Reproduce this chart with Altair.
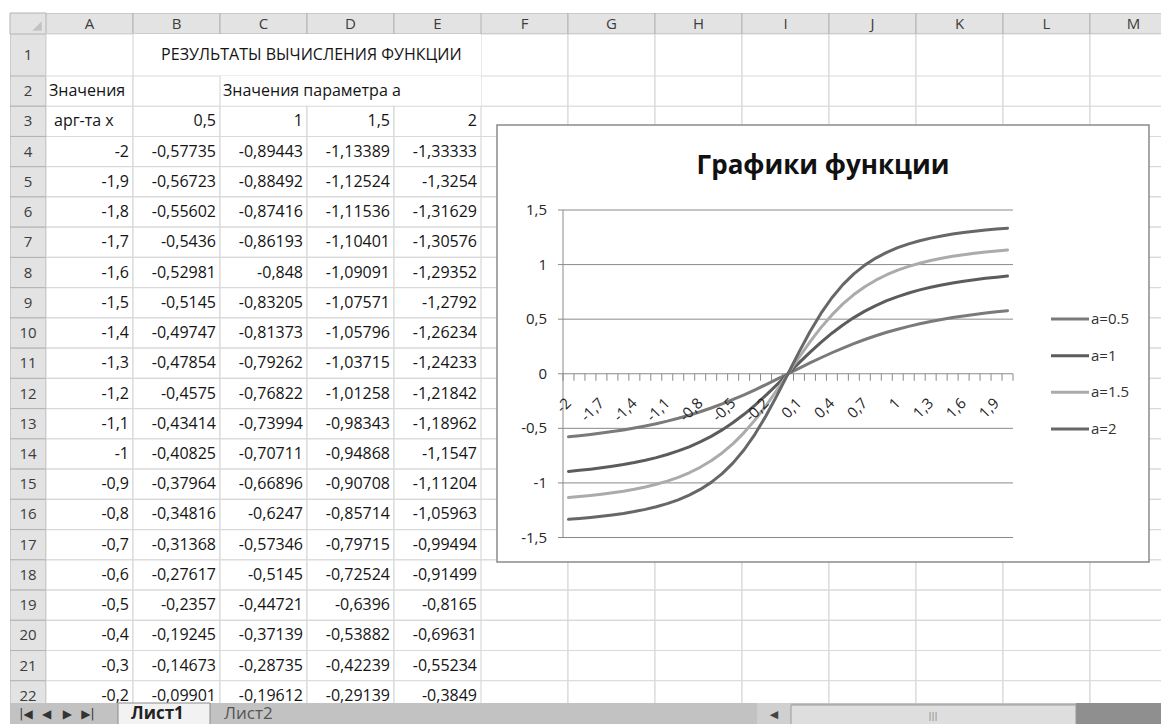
import altair as alt
import pandas as pd

FONT = "Open Sans"

# ---------------- data ----------------
x_vals = [-2, -1.9, -1.8, -1.7, -1.6, -1.5, -1.4, -1.3, -1.2, -1.1, -1, -0.9, -0.8, -0.7,
          -0.6, -0.5, -0.4, -0.3, -0.2, -0.1, 0, 0.1, 0.2, 0.3, 0.4, 0.5, 0.6, 0.7, 0.8,
          0.9, 1, 1.1, 1.2, 1.3, 1.4, 1.5, 1.6, 1.7, 1.8, 1.9, 2]

y_a05 = [-0.57735, -0.56723, -0.55602, -0.5436, -0.52981, -0.5145, -0.49747, -0.47854,
         -0.4575, -0.43414, -0.40825, -0.37964, -0.34816, -0.31368, -0.27617, -0.2357,
         -0.19245, -0.14673, -0.09901, -0.04988, 0, 0.04988, 0.09901, 0.14673, 0.19245,
         0.2357, 0.27617, 0.31368, 0.34816, 0.37964, 0.40825, 0.43414, 0.4575, 0.47854,
         0.49747, 0.5145, 0.52981, 0.5436, 0.55602, 0.56723, 0.57735]
y_a1 = [-0.89443, -0.88492, -0.87416, -0.86193, -0.848, -0.83205, -0.81373, -0.79262,
        -0.76822, -0.73994, -0.70711, -0.66896, -0.6247, -0.57346, -0.5145, -0.44721,
        -0.37139, -0.28735, -0.19612, -0.0995, 0, 0.0995, 0.19612, 0.28735, 0.37139,
        0.44721, 0.5145, 0.57346, 0.6247, 0.66896, 0.70711, 0.73994, 0.76822, 0.79262,
        0.81373, 0.83205, 0.848, 0.86193, 0.87416, 0.88492, 0.89443]
y_a15 = [-1.13389, -1.12524, -1.11536, -1.10401, -1.09091, -1.07571, -1.05796, -1.03715,
         -1.01258, -0.98343, -0.94868, -0.90708, -0.85714, -0.79715, -0.72524, -0.6396,
         -0.53882, -0.42239, -0.29139, -0.14889, 0, 0.14889, 0.29139, 0.42239, 0.53882,
         0.6396, 0.72524, 0.79715, 0.85714, 0.90708, 0.94868, 0.98343, 1.01258, 1.03715,
         1.05796, 1.07571, 1.09091, 1.10401, 1.11536, 1.12524, 1.13389]
y_a2 = [-1.33333, -1.3254, -1.31629, -1.30576, -1.29352, -1.2792, -1.26234, -1.24233,
        -1.21842, -1.18962, -1.1547, -1.11204, -1.05963, -0.99494, -0.91499, -0.8165,
        -0.69631, -0.55234, -0.3849, -0.19803, 0, 0.19803, 0.3849, 0.55234, 0.69631,
        0.8165, 0.91499, 0.99494, 1.05963, 1.11204, 1.1547, 1.18962, 1.21842, 1.24233,
        1.26234, 1.2792, 1.29352, 1.30576, 1.31629, 1.3254, 1.33333]

series_names = ["a=0.5", "a=1", "a=1.5", "a=2"]
series_colors = ["#7a7a7a", "#5c5c5c", "#ababab", "#676767"]
param_labels = ["0,5", "1", "1,5", "2"]
cols_left = ["A", "B", "C", "D", "E"]
cols_right = ["F", "G", "H", "I", "J", "K", "L", "M"]
y_ticks = [-1.5, -1, -0.5, 0, 0.5, 1, 1.5]
chart_title = "Графики функции"
sheet_title = "РЕЗУЛЬТАТЫ ВЫЧИСЛЕНИЯ ФУНКЦИИ"
hdr_x = "Значения"
hdr_x2 = "арг-та x"
hdr_param = "Значения параметра а"
sheet_tabs = ["Лист1", "Лист2"]
nav_glyphs = ["|◀", "◀", "▶", "▶|"]

series = [y_a05, y_a1, y_a15, y_a2]
n_table = 19  # rows 4..22 visible in the sheet

# ---------------- styles ----------------
HDR_FILL = "#e3e3e3"
HDR_STROKE = "#b3b3b3"
CELL_STROKE = "#d9d9d9"
TXT = "#141414"
AX = "#8a8a8a"
FS = 16

W_RN, W_AE, W_R = 36, 435, 680
H_HDR, H_R1, H_BODY, H_TAB = 21, 42, 627, 22
body_rows = list(range(2, 23))
BODY_RANGE = [0, 635]
RIGHT_RANGE = [0, 696]


def fmt(v):
    return str(v).replace(".", ",")


def band(domain, rng=None):
    if rng is None:
        return alt.Scale(domain=domain, paddingInner=0, paddingOuter=0)
    return alt.Scale(domain=domain, range=rng, paddingInner=0, paddingOuter=0)


one = pd.DataFrame({"k": [0]})


# ---------------- header row ----------------
def col_header(letters, width, rng=None):
    df = pd.DataFrame({"c": letters})
    base = alt.Chart(df).encode(x=alt.X("c:N", scale=band(letters, rng), axis=None))
    rect = base.mark_rect(fill=HDR_FILL, stroke=HDR_STROKE, strokeWidth=1, clip=True)
    txt = base.mark_text(font=FONT, fontSize=15, color="#3c3c3c", clip=True).encode(text="c:N")
    return alt.layer(rect, txt).properties(width=width, height=H_HDR)


corner = alt.layer(
    alt.Chart(one).mark_rect(fill=HDR_FILL, stroke=HDR_STROKE).encode(
        x=alt.value(0), x2=alt.value(W_RN), y=alt.value(0), y2=alt.value(H_HDR)),
    alt.Chart(one).mark_point(shape="M1,-1L1,1L-1,1Z", filled=True, size=90, color="#c2c2c2",
                              opacity=1).encode(x=alt.value(27), y=alt.value(13)),
).properties(width=W_RN, height=H_HDR)


# ---------------- row numbers ----------------
def row_numbers(rows, height, rng=None):
    df = pd.DataFrame({"r": rows})
    base = alt.Chart(df).encode(y=alt.Y("r:O", scale=band(rows, rng), axis=None))
    rect = base.mark_rect(fill=HDR_FILL, stroke=HDR_STROKE, strokeWidth=1, clip=True)
    txt = base.mark_text(font=FONT, fontSize=15, color="#3c3c3c", clip=True).encode(text="r:O")
    return alt.layer(rect, txt).properties(width=W_RN, height=height)


# ---------------- row 1 ----------------
r1_df = pd.DataFrame({"c": cols_left, "r": [1] * 5})
r1_base = alt.Chart(r1_df).encode(x=alt.X("c:N", scale=band(cols_left), axis=None))
r1_left = alt.layer(
    r1_base.mark_rect(fill="white"),
    r1_base.mark_rect(fill="white", stroke=CELL_STROKE, strokeWidth=1.2).transform_filter("datum.c == 'A'"),
    alt.Chart(one).mark_rule(color=CELL_STROKE, strokeWidth=1.2).encode(
        x=alt.value(87), x2=alt.value(W_AE), y=alt.value(H_R1)),
    alt.Chart(pd.DataFrame({"c": ["D"], "t": [sheet_title]})).mark_text(
        font=FONT, fontSize=FS, color=TXT, align="center").encode(
        x=alt.X("c:N", scale=band(cols_left), axis=None, bandPosition=0.05), text="t:N"),
).properties(width=W_AE, height=H_R1)

r1_right = alt.Chart(pd.DataFrame({"c": cols_right})).mark_rect(
    fill="white", stroke=CELL_STROKE, strokeWidth=1.2, clip=True).encode(
    x=alt.X("c:N", scale=band(cols_right, RIGHT_RANGE), axis=None)
).properties(width=W_R, height=H_R1)

# ---------------- table body (rows 2..22, A..E) ----------------
texts = {}
texts[(2, "A")] = (hdr_x, "l")
texts[(2, "C")] = (hdr_param, "l")
texts[(3, "A")] = (hdr_x2, "l2")
for j, c in enumerate(cols_left[1:]):
    texts[(3, c)] = (param_labels[j], "r")
for i in range(n_table):
    r = 4 + i
    texts[(r, "A")] = (fmt(x_vals[i]), "r")
    for j, c in enumerate(cols_left[1:]):
        texts[(r, c)] = (fmt(series[j][i]), "r")
no_stroke = {(2, "C"), (2, "D"), (2, "E")}

cells = []
for r in body_rows:
    for c in cols_left:
        t, al = texts.get((r, c), ("", "n"))
        cells.append({"r": r, "c": c, "t": t, "al": al, "st": 0 if (r, c) in no_stroke else 1})
cells_df = pd.DataFrame(cells)

ys_body = band(body_rows, BODY_RANGE)
base_body = alt.Chart(cells_df).encode(y=alt.Y("r:O", scale=ys_body, axis=None))
xb = band(cols_left)
body_left = alt.layer(
    base_body.mark_rect(fill="white", clip=True).encode(x=alt.X("c:N", scale=xb, axis=None)),
    base_body.mark_rect(fill="white", stroke=CELL_STROKE, strokeWidth=1.2, clip=True).encode(
        x=alt.X("c:N", scale=xb, axis=None)).transform_filter("datum.st == 1"),
    base_body.mark_text(font=FONT, fontSize=FS, color=TXT, align="right", dx=-4, clip=True).encode(
        x=alt.X("c:N", scale=xb, axis=None, bandPosition=1), text="t:N").transform_filter("datum.al == 'r'"),
    base_body.mark_text(font=FONT, fontSize=FS, color=TXT, align="left", dx=3, clip=True).encode(
        x=alt.X("c:N", scale=xb, axis=None, bandPosition=0), text="t:N").transform_filter("datum.al == 'l'"),
    base_body.mark_text(font=FONT, fontSize=FS, color=TXT, align="left", dx=8, clip=True).encode(
        x=alt.X("c:N", scale=xb, axis=None, bandPosition=0), text="t:N").transform_filter("datum.al == 'l2'"),
).properties(width=W_AE, height=H_BODY)

# ---------------- right body: grid + chart ----------------
grid_cells = pd.DataFrame([{"r": r, "c": c} for r in body_rows for c in cols_right])
grid_layer = alt.Chart(grid_cells).mark_rect(fill="white", stroke=CELL_STROKE, strokeWidth=1.2, clip=True).encode(
    x=alt.X("c:N", scale=band(cols_right, RIGHT_RANGE), axis=None),
    y=alt.Y("r:O", scale=band(body_rows, BODY_RANGE), axis=None),
)

xs = alt.Scale(domain=[-2.05, 2.05], range=[82, 532], nice=False, zero=False)
ys = alt.Scale(domain=[-1.5, 1.5], range=[461.5, 134], nice=False, zero=False)
x_bounds = [round(-2.05 + 0.1 * i, 2) for i in range(42)]
X_LO, X_HI = -2.05, 2.05

long_rows = []
for name, ys_ in zip(series_names, series):
    for xv, yv in zip(x_vals, ys_):
        long_rows.append({"x": xv, "y": yv, "s": name})
lines_df = pd.DataFrame(long_rows)
ytick_df = pd.DataFrame({"v": y_ticks})

box = alt.Chart(one).mark_rect(fill="white", stroke="#8a8a8a", strokeWidth=1.5).encode(
    x=alt.value(16), x2=alt.value(668), y=alt.value(49), y2=alt.value(486))

gridrules = alt.Chart(ytick_df).mark_rule(color=AX, strokeWidth=1).encode(
    y=alt.Y("v:Q", scale=ys, axis=None),
    x=alt.XDatum(X_LO, type="quantitative", scale=xs, axis=None),
    x2=alt.X2Datum(X_HI),
)
ytick_marks = alt.Chart(ytick_df).mark_rule(color=AX, strokeWidth=1, x2Offset=-5).encode(
    y=alt.Y("v:Q", scale=ys, axis=None),
    x=alt.XDatum(X_LO, type="quantitative", scale=xs, axis=None),
    x2=alt.X2Datum(X_LO),
)
yaxis_line = alt.Chart(one).mark_rule(color=AX, strokeWidth=1).encode(
    x=alt.XDatum(X_LO, type="quantitative", scale=xs, axis=None),
    y=alt.YDatum(y_ticks[0], type="quantitative", scale=ys, axis=None),
    y2=alt.Y2Datum(y_ticks[-1]),
)
ylabels = alt.Chart(ytick_df).transform_calculate(
    lbl="replace(toString(datum.v), '.', ',')"
).mark_text(align="right", baseline="middle", dx=-16, font=FONT, fontSize=15, color="#262626").encode(
    y=alt.Y("v:Q", scale=ys, axis=None),
    x=alt.XDatum(X_LO, type="quantitative", scale=xs, axis=None),
    text="lbl:N",
)
xtick_marks = alt.Chart(pd.DataFrame({"b": x_bounds})).mark_rule(
    color=AX, strokeWidth=1, y2Offset=7).encode(
    x=alt.X("b:Q", scale=xs, axis=None),
    y=alt.YDatum(0, type="quantitative", scale=ys, axis=None),
    y2=alt.Y2Datum(0),
)

lines = alt.Chart(lines_df).mark_line(strokeWidth=3, strokeJoin="round", strokeCap="round").encode(
    x=alt.X("x:Q", scale=xs, axis=None),
    y=alt.Y("y:Q", scale=ys, axis=None),
    color=alt.Color("s:N", scale=alt.Scale(domain=series_names, range=series_colors), legend=None),
    order=alt.Order("x:Q"),
)

xlabels = alt.Chart(pd.DataFrame({"x": x_vals[::3]})).transform_calculate(
    lbl="replace(toString(datum.x), '.', ',')"
).mark_text(angle=315, align="right", baseline="middle", font=FONT, fontSize=15,
            color="#262626", yOffset=27).encode(
    x=alt.X("x:Q", scale=xs, axis=None),
    y=alt.YDatum(0, type="quantitative", scale=ys, axis=None),
    text="lbl:N",
)

title = alt.Chart(pd.DataFrame({"t": [chart_title]})).mark_text(
    font=FONT, fontSize=26, fontWeight="bold", color="#111111", align="center", baseline="middle"
).encode(x=alt.value(342), y=alt.value(90), text="t:N")

inner = alt.layer(box, gridrules, ytick_marks, yaxis_line, ylabels, xtick_marks, lines, xlabels, title)

# legend drawn from the series names
leg_df = pd.DataFrame({"s": series_names})
ly = alt.Y("s:N", scale=alt.Scale(type="point", domain=series_names, range=[243, 353], padding=0), axis=None)
legend_layer = alt.layer(
    alt.Chart(leg_df).mark_rule(strokeWidth=3).encode(
        x=alt.value(570), x2=alt.value(608), y=ly,
        color=alt.Color("s:N", scale=alt.Scale(domain=series_names, range=series_colors), legend=None)),
    alt.Chart(leg_df).mark_text(align="left", baseline="middle", font=FONT, fontSize=15,
                                color="#333333").encode(x=alt.value(610), y=ly, text="s:N"),
)

body_right = alt.layer(grid_layer, inner, legend_layer).resolve_scale(
    x="independent", y="independent", color="independent").properties(width=W_R, height=H_BODY)

# ---------------- sheet tab bar (three pieces, one per column) ----------------
TAB_BG = "#c2c2c2"
tab_rn = alt.Chart(one).mark_rect(fill=TAB_BG).encode(
    x=alt.value(0), x2=alt.value(W_RN), y=alt.value(0), y2=alt.value(H_TAB)
).properties(width=W_RN, height=H_TAB)

nav_df = pd.DataFrame({"g": nav_glyphs, "i": list(range(len(nav_glyphs)))})
tab_ae = alt.layer(
    alt.Chart(one).mark_rect(fill=TAB_BG).encode(
        x=alt.value(0), x2=alt.value(W_AE), y=alt.value(0), y2=alt.value(H_TAB)),
    alt.Chart(nav_df).mark_text(font="DejaVu Sans", fontSize=12, color="#333333").encode(
        x=alt.X("i:O", scale=alt.Scale(type="point", range=[-20, 42], padding=0), axis=None),
        y=alt.value(11), text="g:N"),
    alt.Chart(one).mark_rect(fill="#f2f2f2", stroke="#8c8c8c").encode(
        x=alt.value(72), x2=alt.value(164), y=alt.value(0), y2=alt.value(H_TAB)),
    alt.Chart(pd.DataFrame({"t": [sheet_tabs[0]]})).mark_text(
        font=FONT, fontSize=17, fontWeight="bold", color="#222222", align="left").encode(
        x=alt.value(85), y=alt.value(11), text="t:N"),
    alt.Chart(pd.DataFrame({"t": [sheet_tabs[1]]})).mark_text(
        font=FONT, fontSize=17, color="#555555", align="left").encode(
        x=alt.value(178), y=alt.value(11), text="t:N"),
).properties(width=W_AE, height=H_TAB)

tab_r = alt.layer(
    alt.Chart(one).mark_rect(fill=TAB_BG).encode(
        x=alt.value(0), x2=alt.value(W_R), y=alt.value(0), y2=alt.value(H_TAB)),
    alt.Chart(one).mark_rect(fill="#d0d0d0").encode(
        x=alt.value(276), x2=alt.value(310), y=alt.value(0), y2=alt.value(H_TAB)),
    alt.Chart(one).mark_rect(fill="#8f8f8f").encode(
        x=alt.value(595), x2=alt.value(W_R), y=alt.value(0), y2=alt.value(H_TAB)),
    alt.Chart(one).mark_rect(fill="#dedede", stroke="#9a9a9a").encode(
        x=alt.value(310), x2=alt.value(595), y=alt.value(2), y2=alt.value(H_TAB)),
    alt.Chart(one).mark_text(text="◀", font="DejaVu Sans", fontSize=11, color="#444444").encode(
        x=alt.value(293), y=alt.value(12)),
    alt.Chart(one).mark_text(text="|||", font="DejaVu Sans", fontSize=9, color="#888888").encode(
        x=alt.value(452), y=alt.value(13)),
).properties(width=W_R, height=H_TAB)

chart = alt.concat(
    corner, col_header(cols_left, W_AE), col_header(cols_right, W_R, RIGHT_RANGE),
    row_numbers([1], H_R1), r1_left, r1_right,
    row_numbers(body_rows, H_BODY, BODY_RANGE), body_left, body_right,
    tab_rn, tab_ae, tab_r,
    columns=3, spacing=0, bounds="flush", align="each",
).configure_view(stroke=None).configure_concat(spacing=0).properties(
    padding={"left": 1, "top": 4, "right": 0, "bottom": 0}, background="white")

chart.save("out.html", embed_options={"renderer": "svg", "actions": False})
